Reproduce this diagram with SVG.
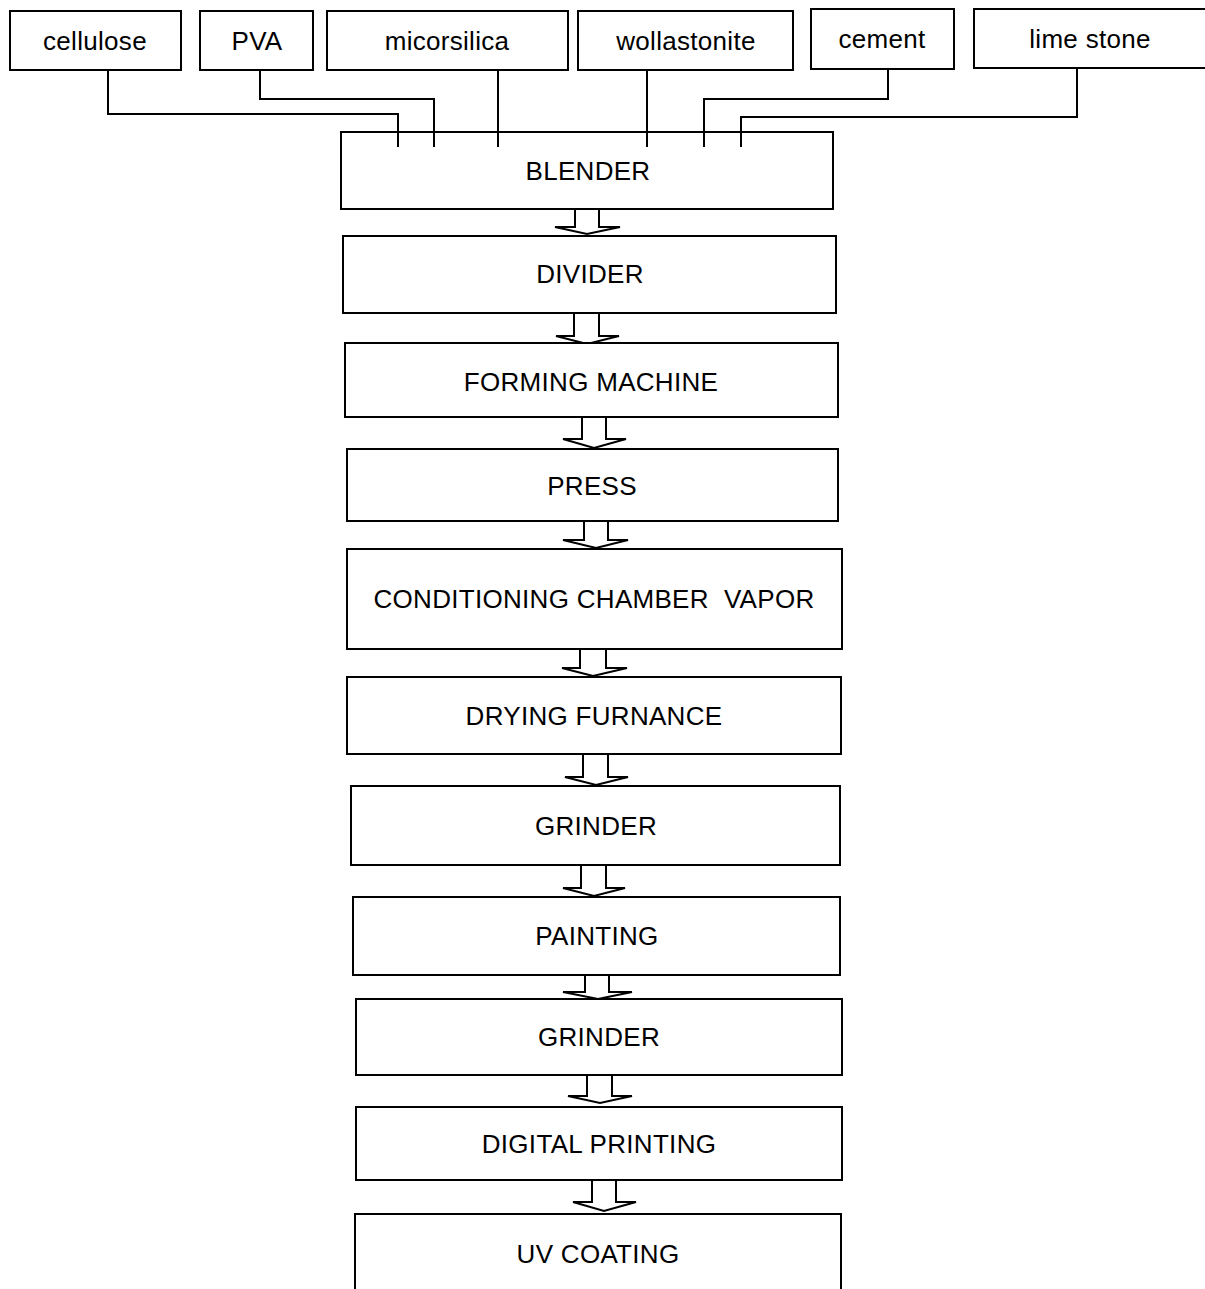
<svg xmlns="http://www.w3.org/2000/svg" width="1205" height="1289" viewBox="0 0 1205 1289">
<style>
.box{fill:#fff;stroke:#000;stroke-width:2}
.lbl{font-family:"Liberation Sans",Arial,sans-serif;font-size:26px;letter-spacing:0.3px;fill:#000;text-anchor:middle}
.con{fill:none;stroke:#000;stroke-width:2}
.arr{fill:#fff;stroke:#000;stroke-width:2;stroke-linejoin:miter}
</style>
<rect width="1205" height="1289" fill="#fff"/>
<g id="connectors">
<polyline class="con" points="108,70 108,114 398,114 398,147"/>
<polyline class="con" points="260,70 260,99 434,99 434,147"/>
<polyline class="con" points="498,70 498,147"/>
<polyline class="con" points="647,70 647,147"/>
<polyline class="con" points="888,69 888,99 704,99 704,147"/>
<polyline class="con" points="1077,68 1077,117 741,117 741,147"/>
</g>
<g id="cellulose"><rect class="box" x="10" y="11" width="171" height="59"/><text class="lbl" x="95" y="50">cellulose</text></g>
<g id="pva"><rect class="box" x="200" y="11" width="113" height="59"/><text class="lbl" x="257" y="50">PVA</text></g>
<g id="micorsilica"><rect class="box" x="327" y="11" width="241" height="59"/><text class="lbl" x="447" y="50">micorsilica</text></g>
<g id="wollastonite"><rect class="box" x="578" y="11" width="215" height="59"/><text class="lbl" x="686" y="50">wollastonite</text></g>
<g id="cement"><rect class="box" x="811" y="9" width="143" height="60"/><text class="lbl" x="882" y="48">cement</text></g>
<g id="limestone"><rect class="box" x="974" y="9" width="240" height="59"/><text class="lbl" x="1090" y="48">lime stone</text></g>

<g id="blender"><rect class="box" x="341" y="132" width="492" height="77" style="fill:none"/><text class="lbl" x="588" y="180">BLENDER</text></g>
<g id="flow-arrows">
<polygon class="arr" points="575,209 575,227 555,227 587,234 620,227 599,227 599,209"/>
<polygon class="arr" points="574,313 574,336 556,336 587,344 619,336 599,336 599,313"/>
<polygon class="arr" points="582,417 582,439 563,439 594,448 626,439 606,439 606,417"/>
<polygon class="arr" points="584,521 584,540 563,540 596,548 628,540 608,540 608,521"/>
<polygon class="arr" points="580,649 580,668 562,668 593,676 627,668 606,668 606,649"/>
<polygon class="arr" points="583,754 583,777 565,777 596,785 628,777 608,777 608,754"/>
<polygon class="arr" points="581,865 581,888 563,888 594,896 625,888 606,888 606,865"/>
<polygon class="arr" points="585,975 585,992 563,992 598,999 632,992 609,992 609,975"/>
<polygon class="arr" points="587,1075 587,1096 568,1096 600,1103 632,1096 612,1096 612,1075"/>
<polygon class="arr" points="592,1180 592,1202 573,1202 604,1211 636,1202 616,1202 616,1180"/>
</g>
<g id="divider"><rect class="box" x="343" y="236" width="493" height="77"/><text class="lbl" x="590" y="283">DIVIDER</text></g>
<g id="forming"><rect class="box" x="345" y="343" width="493" height="74"/><text class="lbl" x="591" y="391">FORMING MACHINE</text></g>
<g id="press"><rect class="box" x="347" y="449" width="491" height="72"/><text class="lbl" x="592" y="495">PRESS</text></g>
<g id="conditioning"><rect class="box" x="347" y="549" width="495" height="100"/><text class="lbl" x="594" y="608" xml:space="preserve">CONDITIONING CHAMBER  VAPOR</text></g>
<g id="drying"><rect class="box" x="347" y="677" width="494" height="77"/><text class="lbl" x="594" y="725">DRYING FURNANCE</text></g>
<g id="grinder1"><rect class="box" x="351" y="786" width="489" height="79"/><text class="lbl" x="596" y="835">GRINDER</text></g>
<g id="painting"><rect class="box" x="353" y="897" width="487" height="78"/><text class="lbl" x="597" y="945">PAINTING</text></g>
<g id="grinder2"><rect class="box" x="356" y="999" width="486" height="76"/><text class="lbl" x="599" y="1046">GRINDER</text></g>
<g id="digital"><rect class="box" x="356" y="1107" width="486" height="73"/><text class="lbl" x="599" y="1153">DIGITAL PRINTING</text></g>
<g id="uvcoating"><polyline class="con" points="355,1295 355,1214 841,1214 841,1295"/><text class="lbl" x="598" y="1263">UV COATING</text></g>
</svg>
